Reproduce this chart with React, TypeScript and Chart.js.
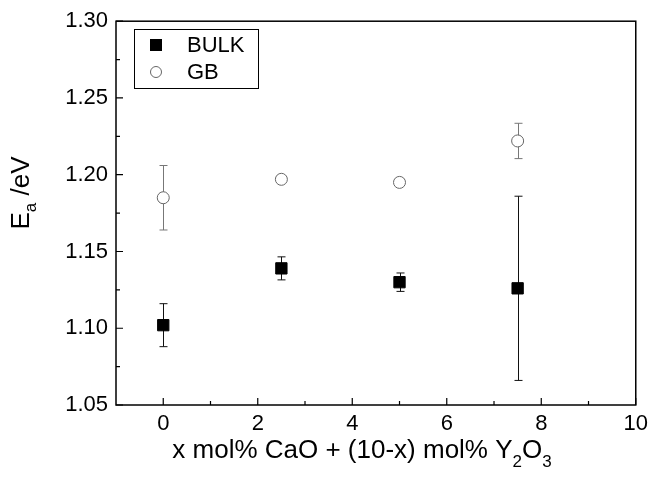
import React, { useEffect, useRef } from "react";
import { Chart, registerables } from "chart.js";

Chart.register(...registerables);

const xValues = [0, 2.5, 5, 7.5];
const bulkValues = [1.102, 1.139, 1.13, 1.126];
const bulkErrors = [0.014, 0.0075, 0.006, 0.06];
const gbValues = [1.185, 1.197, 1.195, 1.222];
const gbErrors = [0.021, 0.002, 0.002, 0.0115];
const seriesLabels = ["BULK", "GB"];
const xMajorTicks = [0, 2, 4, 6, 8, 10];
const xMinorTicks = [1, 3, 5, 7, 9];
const yMajorTicks = [1.05, 1.1, 1.15, 1.2, 1.25, 1.3];
const yMinorTicks = [1.075, 1.125, 1.175, 1.225, 1.275];
const xTitleParts = ["x mol% CaO + (10-x) mol% Y", "2", "O", "3"];
const yTitleParts = ["E", "a", " /eV"];

const FONT = "'Liberation Sans', Arial, sans-serif";

const errorBars = {
  id: "errorBars",
  beforeDatasetsDraw(chart: any) {
    const ctx = chart.ctx;
    const xs = chart.scales.x;
    const ys = chart.scales.y;
    const sets = [
      { v: bulkValues, e: bulkErrors, color: "#111" },
      { v: gbValues, e: gbErrors, color: "#777" },
    ];
    ctx.save();
    ctx.lineWidth = 1;
    for (const s of sets) {
      ctx.strokeStyle = s.color;
      xValues.forEach((xv, i) => {
        const px = Math.round(xs.getPixelForValue(xv)) + 0.5;
        const top = ys.getPixelForValue(s.v[i] + s.e[i]);
        const bot = ys.getPixelForValue(s.v[i] - s.e[i]);
        ctx.beginPath();
        ctx.moveTo(px, top);
        ctx.lineTo(px, bot);
        ctx.moveTo(px - 4, top);
        ctx.lineTo(px + 4, top);
        ctx.moveTo(px - 4, bot);
        ctx.lineTo(px + 4, bot);
        ctx.stroke();
      });
    }
    ctx.restore();
  },
};

const frameAndTicks = {
  id: "frameAndTicks",
  afterDraw(chart: any) {
    const ctx = chart.ctx;
    const a = chart.chartArea;
    const xs = chart.scales.x;
    const ys = chart.scales.y;
    ctx.save();
    ctx.strokeStyle = "#000";
    ctx.lineWidth = 1.5;
    ctx.strokeRect(a.left, a.top, a.right - a.left, a.bottom - a.top);
    ctx.lineWidth = 1.2;
    ctx.beginPath();
    for (const t of xMajorTicks) {
      const p = xs.getPixelForValue(t);
      ctx.moveTo(p, a.bottom);
      ctx.lineTo(p, a.bottom - 7);
    }
    for (const t of xMinorTicks) {
      const p = xs.getPixelForValue(t);
      ctx.moveTo(p, a.bottom);
      ctx.lineTo(p, a.bottom - 4);
    }
    for (const t of yMajorTicks) {
      const p = ys.getPixelForValue(t);
      ctx.moveTo(a.left, p);
      ctx.lineTo(a.left + 7, p);
    }
    for (const t of yMinorTicks) {
      const p = ys.getPixelForValue(t);
      ctx.moveTo(a.left, p);
      ctx.lineTo(a.left + 4, p);
    }
    ctx.stroke();

    // X title with subscripts
    ctx.fillStyle = "#000";
    ctx.textBaseline = "alphabetic";
    ctx.textAlign = "left";
    const big = `26px ${FONT}`;
    const small = `17px ${FONT}`;
    ctx.font = big;
    const w0 = ctx.measureText(xTitleParts[0]).width;
    const w2 = ctx.measureText(xTitleParts[2]).width;
    ctx.font = small;
    const w1 = ctx.measureText(xTitleParts[1]).width;
    const w3 = ctx.measureText(xTitleParts[3]).width;
    const total = w0 + w1 + w2 + w3;
    const cx = 362;
    let x = cx - total / 2;
    const baseY = 458;
    ctx.font = big;
    ctx.fillText(xTitleParts[0], x, baseY);
    x += w0;
    ctx.font = small;
    ctx.fillText(xTitleParts[1], x, baseY + 9);
    x += w1;
    ctx.font = big;
    ctx.fillText(xTitleParts[2], x, baseY);
    x += w2;
    ctx.font = small;
    ctx.fillText(xTitleParts[3], x, baseY + 9);

    // Y title rotated
    ctx.save();
    ctx.translate(29, 193);
    ctx.rotate(-Math.PI / 2);
    ctx.font = big;
    const e0 = ctx.measureText(yTitleParts[0]).width;
    const e2 = ctx.measureText(yTitleParts[2]).width;
    ctx.font = small;
    const e1 = ctx.measureText(yTitleParts[1]).width;
    let yx = -(e0 + e1 + e2) / 2;
    ctx.font = big;
    ctx.fillText(yTitleParts[0], yx, 0);
    yx += e0;
    ctx.font = small;
    ctx.fillText(yTitleParts[1], yx, 7);
    yx += e1;
    ctx.font = big;
    ctx.fillText(yTitleParts[2], yx, 0);
    ctx.restore();

    // Legend
    ctx.lineWidth = 1;
    ctx.strokeStyle = "#000";
    ctx.strokeRect(134.5, 29.5, 124, 59);
    ctx.fillStyle = "#000";
    ctx.fillRect(150, 39, 12, 12);
    ctx.beginPath();
    ctx.arc(156, 72, 5.5, 0, Math.PI * 2);
    ctx.strokeStyle = "#666";
    ctx.stroke();
    ctx.fillStyle = "#000";
    ctx.font = `22px ${FONT}`;
    ctx.textBaseline = "middle";
    ctx.fillText(seriesLabels[0], 187, 46);
    ctx.fillText(seriesLabels[1], 187, 73);
    ctx.restore();
  },
};

export default function App() {
  const ref = useRef<HTMLCanvasElement | null>(null);
  useEffect(() => {
    document.body.style.margin = "0";
    const chart = new Chart(ref.current as HTMLCanvasElement, {
      type: "scatter",
      data: {
        datasets: [
          {
            label: seriesLabels[0],
            data: xValues.map((x, i) => ({ x, y: bulkValues[i] })),
            pointStyle: "rect",
            pointRadius: 8,
            backgroundColor: "#000",
            borderColor: "#000",
            borderWidth: 1,
          },
          {
            label: seriesLabels[1],
            data: xValues.map((x, i) => ({ x, y: gbValues[i] })),
            pointStyle: "circle",
            pointRadius: 6,
            backgroundColor: "#fff",
            borderColor: "#666",
            borderWidth: 1,
          },
        ],
      },
      options: {
        responsive: false,
        animation: false,
        devicePixelRatio: 1,
        layout: { padding: { left: 0, right: 16, top: 20, bottom: 0 } },
        plugins: { legend: { display: false }, tooltip: { enabled: false } },
        scales: {
          x: {
            type: "linear",
            min: -1,
            max: 10,
            grid: { display: false, drawTicks: false },
            border: { display: false },
            ticks: {
              stepSize: 2,
              includeBounds: false,
              color: "#000",
              padding: 6,
              maxRotation: 0,
              font: { family: FONT, size: 22 },
            },
            afterFit: (s: any) => {
              s.height = 74;
            },
          },
          y: {
            type: "linear",
            min: 1.05,
            max: 1.3,
            grid: { display: false, drawTicks: false },
            border: { display: false },
            ticks: {
              stepSize: 0.05,
              color: "#000",
              padding: 8,
              font: { family: FONT, size: 22 },
              callback: (v: any) => Number(v).toFixed(2),
            },
            afterFit: (s: any) => {
              s.width = 116;
            },
          },
        },
      },
      plugins: [errorBars, frameAndTicks],
    } as any);
    return () => chart.destroy();
  }, []);
  return (
    <div style={{ position: "absolute", left: 0, top: 0, width: 654, height: 479, background: "#fff" }}>
      <canvas ref={ref} width={654} height={479} />
    </div>
  );
}
